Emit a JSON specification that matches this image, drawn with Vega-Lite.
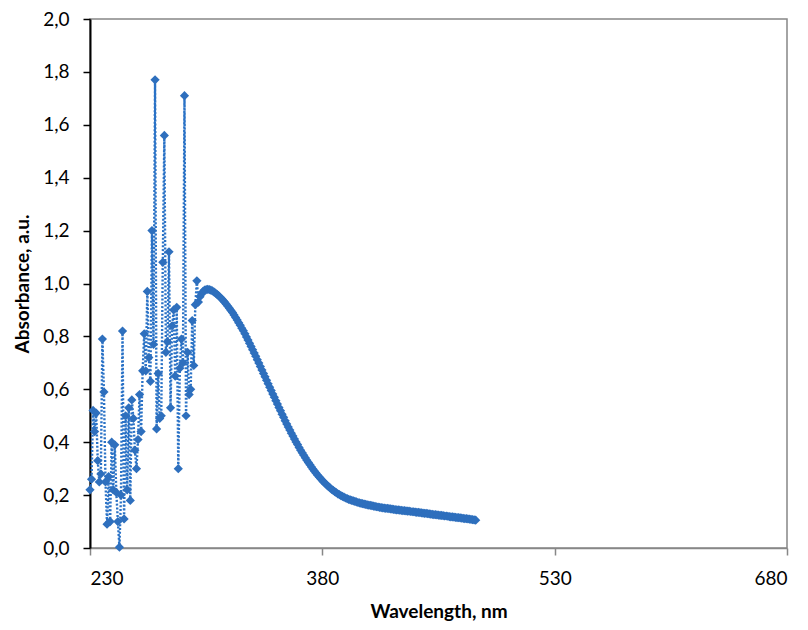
{
  "$schema": "https://vega.github.io/schema/vega-lite/v6.json",
  "width": 697,
  "height": 529,
  "autosize": {"type": "none"},
  "padding": {"left": 90, "top": 19, "right": 21, "bottom": 82},
  "background": "white",
  "config": {
    "font": "Lato",
    "view": {"stroke": "#878787", "strokeWidth": 1.5},
    "axis": {"grid": false, "labelFont": "Lato", "titleFont": "Lato", "labelFontSize": 19, "titleFontSize": 19, "labelColor": "#000000", "titleColor": "#000000", "titleFontWeight": "bold"}
  },
  "data": {"values": [
    {"w":230,"a":0.22},{"w":231,"a":0.26},{"w":232,"a":0.52},{"w":233,"a":0.44},{"w":234,"a":0.51},{"w":235,"a":0.33},{"w":236,"a":0.25},{"w":237,"a":0.28},{"w":238,"a":0.79},{"w":239,"a":0.59},
    {"w":240,"a":0.25},{"w":241,"a":0.09},{"w":242,"a":0.27},{"w":243,"a":0.10},{"w":244,"a":0.40},{"w":245,"a":0.22},{"w":246,"a":0.39},{"w":247,"a":0.21},{"w":248,"a":0.10},{"w":249,"a":0.003},
    {"w":250,"a":0.20},{"w":251,"a":0.82},{"w":252,"a":0.11},{"w":253,"a":0.50},{"w":254,"a":0.22},{"w":255,"a":0.53},{"w":256,"a":0.18},{"w":257,"a":0.56},{"w":258,"a":0.49},{"w":259,"a":0.37},
    {"w":260,"a":0.30},{"w":261,"a":0.41},{"w":262,"a":0.58},{"w":263,"a":0.44},{"w":264,"a":0.67},{"w":265,"a":0.81},{"w":266,"a":0.67},{"w":267,"a":0.97},{"w":268,"a":0.72},{"w":269,"a":0.63},
    {"w":270,"a":1.20},{"w":271,"a":0.77},{"w":272,"a":1.77},{"w":273,"a":0.45},{"w":274,"a":0.66},{"w":275,"a":0.49},{"w":276,"a":0.50},{"w":277,"a":1.08},{"w":278,"a":1.56},{"w":279,"a":0.74},
    {"w":280,"a":0.78},{"w":281,"a":1.12},{"w":282,"a":0.53},{"w":283,"a":0.84},{"w":284,"a":0.90},{"w":285,"a":0.65},{"w":286,"a":0.91},{"w":287,"a":0.30},{"w":288,"a":0.68},{"w":289,"a":0.79},
    {"w":290,"a":0.70},{"w":291,"a":1.71},{"w":292,"a":0.50},{"w":293,"a":0.74},{"w":294,"a":0.58},{"w":295,"a":0.60},{"w":296,"a":0.86},{"w":297,"a":0.69},{"w":298,"a":0.92},{"w":299,"a":1.01},
    {"w":300,"a":0.93},{"w":301,"a":0.95},{"w":302,"a":0.96},{"w":303,"a":0.97},{"w":304,"a":0.975},{"w":305,"a":0.977},{"w":306,"a":0.978},{"w":307,"a":0.977},{"w":308,"a":0.975},{"w":309,"a":0.972},
    {"w":310,"a":0.968},{"w":311,"a":0.964},{"w":312,"a":0.959},{"w":313,"a":0.954},{"w":314,"a":0.948},{"w":315,"a":0.942},{"w":316,"a":0.936},{"w":317,"a":0.929},{"w":318,"a":0.922},{"w":319,"a":0.914},
    {"w":320,"a":0.906},{"w":321,"a":0.898},{"w":322,"a":0.89},{"w":323,"a":0.881},{"w":324,"a":0.871},{"w":325,"a":0.862},{"w":326,"a":0.852},{"w":327,"a":0.842},{"w":328,"a":0.831},{"w":329,"a":0.821},
    {"w":330,"a":0.81},{"w":331,"a":0.798},{"w":332,"a":0.786},{"w":333,"a":0.774},{"w":334,"a":0.762},{"w":335,"a":0.75},{"w":336,"a":0.737},{"w":337,"a":0.725},{"w":338,"a":0.712},{"w":339,"a":0.699},
    {"w":340,"a":0.686},{"w":341,"a":0.673},{"w":342,"a":0.66},{"w":343,"a":0.647},{"w":344,"a":0.634},{"w":345,"a":0.621},{"w":346,"a":0.608},{"w":347,"a":0.595},{"w":348,"a":0.582},{"w":349,"a":0.57},
    {"w":350,"a":0.557},{"w":351,"a":0.544},{"w":352,"a":0.531},{"w":353,"a":0.519},{"w":354,"a":0.506},{"w":355,"a":0.494},{"w":356,"a":0.481},{"w":357,"a":0.469},{"w":358,"a":0.457},{"w":359,"a":0.446},
    {"w":360,"a":0.434},{"w":361,"a":0.423},{"w":362,"a":0.412},{"w":363,"a":0.401},{"w":364,"a":0.391},{"w":365,"a":0.38},{"w":366,"a":0.37},{"w":367,"a":0.36},{"w":368,"a":0.351},{"w":369,"a":0.341},
    {"w":370,"a":0.332},{"w":371,"a":0.323},{"w":372,"a":0.315},{"w":373,"a":0.306},{"w":374,"a":0.298},{"w":375,"a":0.29},{"w":376,"a":0.283},{"w":377,"a":0.275},{"w":378,"a":0.268},{"w":379,"a":0.262},
    {"w":380,"a":0.255},{"w":381,"a":0.249},{"w":382,"a":0.243},{"w":383,"a":0.238},{"w":384,"a":0.232},{"w":385,"a":0.227},{"w":386,"a":0.222},{"w":387,"a":0.218},{"w":388,"a":0.213},{"w":389,"a":0.209},
    {"w":390,"a":0.205},{"w":391,"a":0.202},{"w":392,"a":0.198},{"w":393,"a":0.195},{"w":394,"a":0.192},{"w":395,"a":0.189},{"w":396,"a":0.187},{"w":397,"a":0.184},{"w":398,"a":0.182},{"w":399,"a":0.18},
    {"w":400,"a":0.178},{"w":401,"a":0.176},{"w":402,"a":0.174},{"w":403,"a":0.172},{"w":404,"a":0.171},{"w":405,"a":0.169},{"w":406,"a":0.168},{"w":407,"a":0.166},{"w":408,"a":0.165},{"w":409,"a":0.163},
    {"w":410,"a":0.162},{"w":411,"a":0.161},{"w":412,"a":0.16},{"w":413,"a":0.158},{"w":414,"a":0.157},{"w":415,"a":0.156},{"w":416,"a":0.155},{"w":417,"a":0.154},{"w":418,"a":0.153},{"w":419,"a":0.152},
    {"w":420,"a":0.151},{"w":421,"a":0.15},{"w":422,"a":0.15},{"w":423,"a":0.149},{"w":424,"a":0.148},{"w":425,"a":0.147},{"w":426,"a":0.146},{"w":427,"a":0.145},{"w":428,"a":0.144},{"w":429,"a":0.144},
    {"w":430,"a":0.143},{"w":431,"a":0.142},{"w":432,"a":0.141},{"w":433,"a":0.141},{"w":434,"a":0.14},{"w":435,"a":0.139},{"w":436,"a":0.139},{"w":437,"a":0.138},{"w":438,"a":0.137},{"w":439,"a":0.137},
    {"w":440,"a":0.136},{"w":441,"a":0.135},{"w":442,"a":0.135},{"w":443,"a":0.134},{"w":444,"a":0.133},{"w":445,"a":0.132},{"w":446,"a":0.131},{"w":447,"a":0.131},{"w":448,"a":0.13},{"w":449,"a":0.129},
    {"w":450,"a":0.128},{"w":451,"a":0.127},{"w":452,"a":0.126},{"w":453,"a":0.126},{"w":454,"a":0.125},{"w":455,"a":0.124},{"w":456,"a":0.123},{"w":457,"a":0.123},{"w":458,"a":0.122},{"w":459,"a":0.121},
    {"w":460,"a":0.121},{"w":461,"a":0.12},{"w":462,"a":0.119},{"w":463,"a":0.118},{"w":464,"a":0.118},{"w":465,"a":0.117},{"w":466,"a":0.116},{"w":467,"a":0.115},{"w":468,"a":0.115},{"w":469,"a":0.114},
    {"w":470,"a":0.113},{"w":471,"a":0.112},{"w":472,"a":0.111},{"w":473,"a":0.111},{"w":474,"a":0.11},{"w":475,"a":0.109},{"w":476,"a":0.108},{"w":477,"a":0.107},{"w":478,"a":0.106},{"w":479,"a":0.105}
  ]},
  "encoding": {
    "x": {"field": "w", "type": "quantitative", "scale": {"domain": [230, 680], "nice": false, "zero": false},
      "axis": {"title": "Wavelength, nm", "values": [230, 380, 530, 680], "domainColor": "#878787", "domainWidth": 1.5, "tickColor": "#878787", "tickWidth": 1.5, "tickSize": 7, "labelPadding": 14, "titlePadding": 14}},
    "y": {"field": "a", "type": "quantitative", "scale": {"domain": [0, 2], "nice": false},
      "axis": {"title": "Absorbance, a.u.", "values": [0, 0.2, 0.4, 0.6, 0.8, 1, 1.2, 1.4, 1.6, 1.8, 2], "labelExpr": "replace(format(datum.value, '.1f'), '.', ',')", "domainColor": "#000000", "domainWidth": 2, "tickColor": "#000000", "tickWidth": 1.5, "tickSize": 7, "labelPadding": 14, "titlePadding": 10}}
  },
  "layer": [
    {"mark": {"type": "line", "color": "#2a72c6", "strokeWidth": 2.4, "strokeDash": [2, 1.8], "clip": true}},
    {"mark": {"type": "point", "shape": "diamond", "filled": true, "size": 85, "color": "#2e6fbd", "opacity": 1}}
  ]
}
